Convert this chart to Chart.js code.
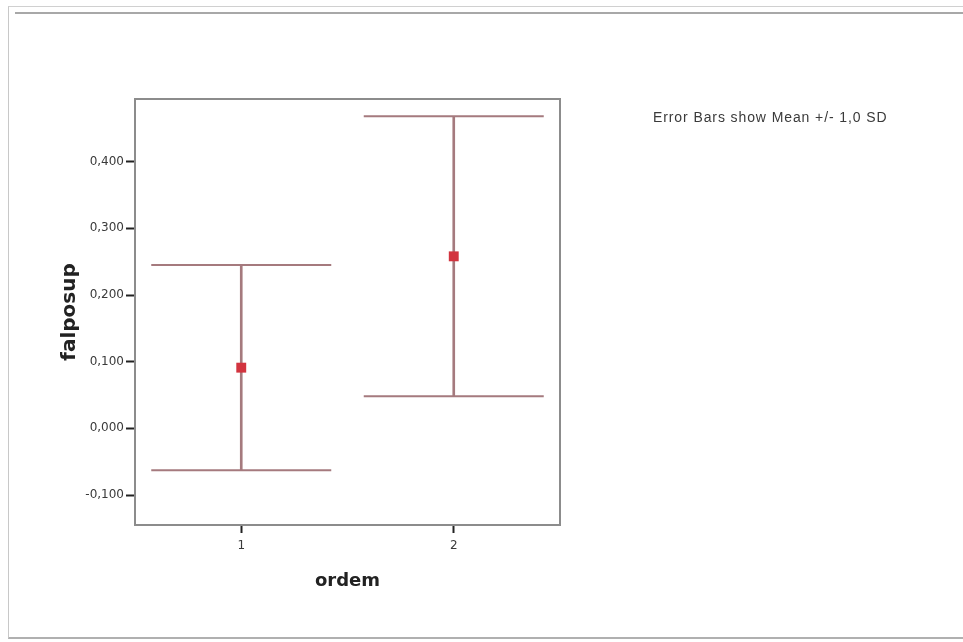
<!DOCTYPE html>
<html>
<head>
<meta charset="utf-8">
<script src="https://cdn.jsdelivr.net/npm/chart.js@4/dist/chart.umd.min.js"></script>
<style>
    html, body { margin: 0; padding: 0; background: #fff; }
    #wrap { position: relative; width: 963px; height: 642px; overflow: hidden; }
    #chartBox { position: absolute; left: 0; top: 0; width: 963px; height: 642px; }
    .frame-outer { position: absolute; left: 8px; top: 6px; width: 1000px; height: 630px; border-left: 1px solid #c8c8c8; border-top: 1px solid #d0d0d0; border-bottom: 2px solid #b0b0b0; }
    .frame-inner { position: absolute; left: 15px; top: 12px; width: 1000px; border-top: 2px solid #a8a8a8; }
    #note { position: absolute; left: 653px; top: 109px; font-family: Arial, "Liberation Sans", sans-serif; font-size: 14px; letter-spacing: 0.9px; color: #3a3a3a; white-space: nowrap; }
</style>
</head>
<body>
<div id="wrap">
    <div class="frame-outer"></div>
    <div class="frame-inner"></div>
    <div id="chartBox"><canvas id="errChart"></canvas></div>
    <div id="note">Error Bars show Mean +/- 1,0 SD</div>
</div>
<script>
// 데이터
const categories = ['1', '2'];
const meanValues = [0.091, 0.258];
const upperValues = [0.245, 0.468];
const lowerValues = [-0.063, 0.048];
const yTickValues = [-0.1, 0, 0.1, 0.2, 0.3, 0.4];

const barColor = '#a57a7e';
const meanColor = '#d2343f';

// 플롯 영역 테두리
const boxPlugin = {
    id: 'boxPlugin',
    afterDraw(chart) {
        const a = chart.chartArea;
        const ctx = chart.ctx;
        ctx.save();
        ctx.strokeStyle = '#8c8c8c';
        ctx.lineWidth = 2;
        ctx.strokeRect(a.left, a.top, a.right - a.left, a.bottom - a.top);
        ctx.restore();
    }
};

const ctx = document.getElementById('errChart').getContext('2d');
new Chart(ctx, {
    data: {
        labels: categories,
        datasets: [
            {
                type: 'bar',
                label: 'range',
                data: lowerValues.map((lo, i) => [lo, upperValues[i]]),
                backgroundColor: barColor,
                borderWidth: 0,
                barThickness: 2,
                order: 3
            },
            {
                type: 'line',
                label: 'upper',
                data: upperValues,
                showLine: false,
                pointStyle: 'line',
                pointRadius: 90,
                pointHoverRadius: 90,
                pointBorderWidth: 2,
                pointBorderColor: barColor,
                order: 2
            },
            {
                type: 'line',
                label: 'lower',
                data: lowerValues,
                showLine: false,
                pointStyle: 'line',
                pointRadius: 90,
                pointHoverRadius: 90,
                pointBorderWidth: 2,
                pointBorderColor: barColor,
                order: 2
            },
            {
                type: 'line',
                label: 'mean',
                data: meanValues,
                showLine: false,
                pointStyle: 'rect',
                pointRadius: 7,
                pointHoverRadius: 7,
                pointBackgroundColor: meanColor,
                pointBorderColor: meanColor,
                pointBorderWidth: 0,
                order: 1
            }
        ]
    },
    options: {
        responsive: true,
        maintainAspectRatio: false,
        animation: false,
        layout: { padding: { top: 99, right: 403, left: 0, bottom: 0 } },
        plugins: {
            legend: { display: false },
            tooltip: { enabled: false }
        },
        scales: {
            x: {
                type: 'category',
                offset: true,
                grid: { drawOnChartArea: false, offset: false, tickLength: 8, tickColor: '#222', tickWidth: 2 },
                border: { display: false },
                ticks: { color: '#3a3a3a', padding: 6, font: { family: 'DejaVu Sans', size: 12 } },
                title: {
                    display: true,
                    text: 'ordem',
                    color: '#222',
                    padding: { top: 0, bottom: 50 },
                    font: { family: 'DejaVu Sans', size: 18, weight: 'bold' }
                },
                afterFit(scale) { scale.height = 117; }
            },
            y: {
                min: -0.145,
                max: 0.494,
                grid: { drawOnChartArea: false, tickLength: 9, tickColor: '#222', tickWidth: 2 },
                border: { display: false },
                afterBuildTicks(scale) { scale.ticks = yTickValues.map(v => ({ value: v })); },
                ticks: {
                    color: '#3a3a3a',
                    padding: 2,
                    font: { family: 'DejaVu Sans', size: 12 },
                    callback: v => v.toFixed(3).replace('.', ',')
                },
                title: {
                    display: true,
                    text: 'falposup',
                    color: '#222',
                    padding: { top: 58, bottom: 0 },
                    font: { family: 'DejaVu Sans', size: 20, weight: 'bold' }
                },
                afterFit(scale) { scale.width = 135; }
            }
        }
    },
    plugins: [boxPlugin]
});
</script>
</body>
</html>
